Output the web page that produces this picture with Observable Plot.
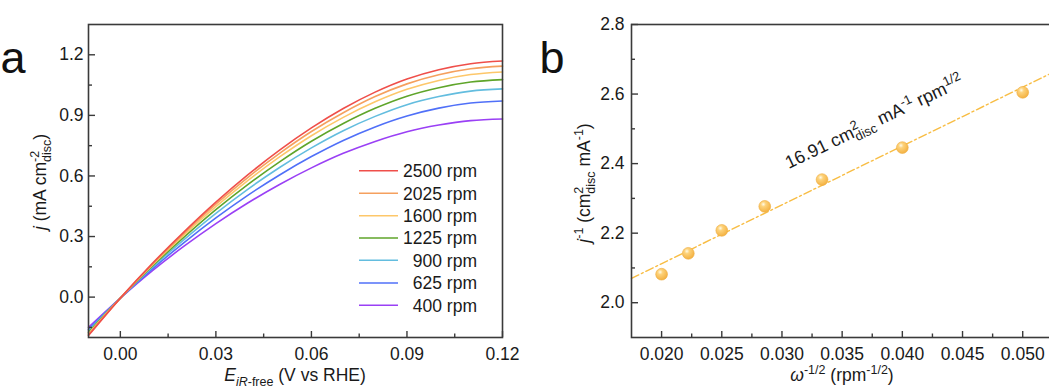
<!DOCTYPE html>
<html><head><meta charset="utf-8">
<script src="https://cdn.jsdelivr.net/npm/d3@7"></script>
<script src="https://cdn.jsdelivr.net/npm/@observablehq/plot@0.6"></script>
<style>
html,body{margin:0;padding:0;background:#fff;overflow:hidden;}
#wrap{position:relative;width:1049px;height:390px;overflow:hidden;background:#fff;}
#pa,#pb{position:absolute;top:0;width:540px;height:390px;}
#pa{left:0;} #pb{left:540px;}
#pa svg,#pb svg{max-width:none !important;width:540px !important;height:390px !important;overflow:visible;}
</style></head><body>
<svg width="0" height="0" style="position:absolute"><defs>
<radialGradient id="ball" cx="0.38" cy="0.32" r="0.7">
<stop offset="0" stop-color="#fffbe8"/>
<stop offset="0.3" stop-color="#fdd27a"/>
<stop offset="1" stop-color="#f3b040"/>
</radialGradient></defs></svg>
<div id="wrap"><div id="pa"></div><div id="pb"></div></div>
<script>
// ---------- Panel a data ----------
const E = [-0.01, 0, 0.01, 0.02, 0.03, 0.04, 0.05, 0.06, 0.07, 0.08, 0.09, 0.10, 0.11, 0.12];
const rpmLabels = ["2500 rpm", "2025 rpm", "1600 rpm", "1225 rpm", "900 rpm", "625 rpm", "400 rpm"];
const rpmColors = ["#ef4f4a", "#f5a05e", "#fdc76a", "#5fa52a", "#63bddf", "#5070f8", "#9a40f5"];
const j2500 = [-0.190, -0.005, 0.166, 0.323, 0.470, 0.605, 0.728, 0.838, 0.934, 1.015, 1.080, 1.126, 1.156, 1.169];
const j2025 = [-0.186, -0.005, 0.162, 0.316, 0.460, 0.592, 0.712, 0.820, 0.913, 0.993, 1.056, 1.101, 1.131, 1.144];
const j1600 = [-0.181, -0.005, 0.158, 0.308, 0.448, 0.577, 0.694, 0.799, 0.890, 0.967, 1.029, 1.073, 1.102, 1.115];
const j1225 = [-0.175, -0.005, 0.153, 0.297, 0.433, 0.557, 0.670, 0.772, 0.860, 0.935, 0.995, 1.037, 1.065, 1.077];
const j900  = [-0.168, -0.005, 0.147, 0.285, 0.415, 0.534, 0.642, 0.739, 0.824, 0.895, 0.953, 0.993, 1.020, 1.031];
const j625  = [-0.160, -0.005, 0.139, 0.270, 0.392, 0.504, 0.605, 0.696, 0.776, 0.843, 0.897, 0.936, 0.961, 0.971];
const j400  = [-0.150, -0.005, 0.130, 0.252, 0.364, 0.466, 0.558, 0.640, 0.712, 0.771, 0.819, 0.852, 0.874, 0.882];
const jSeries = [j2500, j2025, j1600, j1225, j900, j625, j400];

const xMajorA = [0, 0.03, 0.06, 0.09, 0.12];
const xMinorA = [0.015, 0.045, 0.075, 0.105];
const yMajorA = [0, 0.3, 0.6, 0.9, 1.2];
const yMinorA = [-0.15, 0.15, 0.45, 0.75, 1.05];

// ---------- Panel b data ----------
const omega = [0.02, 0.02222, 0.025, 0.02857, 0.03333, 0.04, 0.05];
const invJ = [2.082, 2.142, 2.208, 2.277, 2.354, 2.446, 2.605];
const fitX = [0.0175, 0.0548];
const fitY = [2.070, 2.701];
const slopeLabel = "16.91";
const xMajorB = [0.020, 0.025, 0.030, 0.035, 0.040, 0.045, 0.050];
const xMinorB = [0.0225, 0.0275, 0.0325, 0.0375, 0.0425, 0.0475, 0.0525];
const yMajorB = [2.0, 2.2, 2.4, 2.6, 2.8];
const yMinorB = [2.1, 2.3, 2.5, 2.7];

const fontFam = "'Liberation Sans', Arial, Helvetica, sans-serif";
const axisColor = "#3a3a3a";
const textColor = "#1a1a1a";

function richText(svg, x, y, parts, {rotate = 0, anchor = "middle", size = 17.5, subSize = 12.5} = {}) {
  const t = d3.select(svg).append("text")
    .attr("transform", `translate(${x},${y}) rotate(${rotate})`)
    .attr("text-anchor", anchor)
    .attr("font-family", fontFam)
    .attr("font-size", size)
    .attr("fill", textColor);
  let shift = 0, lastSup = 0;
  for (const p of parts) {
    const ts = t.append("tspan").text(p.t);
    const target = p.sup ? -7 : p.sub ? 4.5 : 0;
    if (p.sup || p.sub) ts.attr("font-size", subSize);
    if (p.italic) ts.attr("font-style", "italic");
    ts.attr("dy", target - shift);
    shift = target;
    if (p.stack) ts.attr("dx", -lastSup);
    if (p.sup) lastSup = ts.node().getComputedTextLength();
  }
  return t;
}

// ---------- Panel a ----------
const rowsA = [];
jSeries.forEach((s, k) => s.forEach((v, i) => rowsA.push({E: E[i], j: v, rpm: rpmLabels[k]})));

const plotW_A = 540 - 88 - 38, plotH = 390 - 24 - 53;
const pa = Plot.plot({
  width: 540, height: 390,
  marginLeft: 88, marginRight: 38, marginTop: 24, marginBottom: 53,
  x: {domain: [-0.01, 0.12], label: null},
  y: {domain: [-0.2, 1.35], label: null},
  style: {fontFamily: fontFam, fontSize: "17px", color: textColor, background: "transparent"},
  marks: [
    ...rpmLabels.slice().reverse().map((lab) => Plot.line(rowsA.filter(d => d.rpm === lab), {
      x: "E", y: "j", stroke: rpmColors[rpmLabels.indexOf(lab)], strokeWidth: 1.6, curve: "catmull-rom"
    })),
    Plot.axisX({ticks: xMajorA, tickSize: 0, tickPadding: 10, fontSize: 17.5, tickFormat: d3.format(".2f"), label: null}),
    Plot.axisY({ticks: yMajorA, tickSize: 0, tickPadding: 5, fontSize: 17.5, tickFormat: d3.format(".1f"), label: null}),
    Plot.tickX(xMajorA, {x: d => d, insetTop: plotH - 6, stroke: axisColor, strokeWidth: 1.4}),
    Plot.tickX(xMinorA, {x: d => d, insetTop: plotH - 3.5, stroke: axisColor, strokeWidth: 1.4}),
    Plot.tickY(yMajorA, {y: d => d, insetRight: plotW_A - 7, stroke: axisColor, strokeWidth: 1.4}),
    Plot.tickY(yMinorA, {y: d => d, insetRight: plotW_A - 4, stroke: axisColor, strokeWidth: 1.4}),
    Plot.frame({stroke: axisColor, strokeWidth: 1.6})
  ]
});
document.getElementById("pa").appendChild(pa);

// legend
const legY = [170.7, 193.3, 215.7, 238, 260.3, 283, 305.3];
const lg = d3.select(pa).append("g");
rpmLabels.forEach((lab, k) => {
  lg.append("line").attr("x1", 359).attr("x2", 398).attr("y1", legY[k]).attr("y2", legY[k])
    .attr("stroke", rpmColors[k]).attr("stroke-width", 1.6);
  lg.append("text").attr("x", 477).attr("y", legY[k] + 6.2).attr("text-anchor", "end")
    .attr("font-family", fontFam).attr("font-size", 17.5).attr("fill", textColor).text(lab);
});
d3.select(pa).append("text").attr("x", 13).attr("y", 73).attr("font-family", fontFam)
  .attr("font-size", 45).attr("fill", "#111").text("a");
richText(pa, 295, 381, [
  {t: "E", italic: true}, {t: "iR", sub: true, italic: true}, {t: "-free", sub: true}, {t: " (V vs RHE)"}
]);
richText(pa, 46, 182, [
  {t: "j", italic: true}, {t: " (mA cm"}, {t: "-2", sup: true}, {t: "disc", sub: true, stack: true}, {t: ")"}
], {rotate: -90});

// ---------- Panel b ----------
const rowsB = omega.map((w, i) => ({w, v: invJ[i]}));
const fitRows = fitX.map((w, i) => ({w, v: fitY[i]}));
const plotW_B = 540 - 91;
const pb = Plot.plot({
  width: 540, height: 390,
  marginLeft: 91, marginRight: 0, marginTop: 24, marginBottom: 53,
  x: {domain: [0.0175, 0.0548], label: null},
  y: {domain: [1.9, 2.8], label: null},
  style: {fontFamily: fontFam, fontSize: "17px", color: textColor, background: "transparent"},
  marks: [
    Plot.line(fitRows, {x: "w", y: "v", stroke: "#f8bd44", strokeWidth: 1.4, strokeDasharray: "8,3,2,3"}),
    Plot.dot(rowsB, {x: "w", y: "v", r: 5.9, fill: "url(#ball)", stroke: "#eeac40", strokeWidth: 0.6}),
    Plot.axisX({ticks: xMajorB, tickSize: 0, tickPadding: 10, fontSize: 17.5, tickFormat: d3.format(".3f"), label: null}),
    Plot.axisY({ticks: yMajorB, tickSize: 0, tickPadding: 7, fontSize: 17.5, tickFormat: d3.format(".1f"), label: null}),
    Plot.tickX(xMajorB, {x: d => d, insetTop: plotH - 6, stroke: axisColor, strokeWidth: 1.4}),
    Plot.tickX(xMinorB, {x: d => d, insetTop: plotH - 3.5, stroke: axisColor, strokeWidth: 1.4}),
    Plot.tickY(yMajorB, {y: d => d, insetRight: plotW_B - 7, stroke: axisColor, strokeWidth: 1.4}),
    Plot.tickY(yMinorB, {y: d => d, insetRight: plotW_B - 4, stroke: axisColor, strokeWidth: 1.4}),
    Plot.frame({stroke: axisColor, strokeWidth: 1.6})
  ]
});
document.getElementById("pb").appendChild(pb);

d3.select(pb).append("text").attr("x", 12).attr("y", 73).attr("font-family", fontFam)
  .attr("font-size", 45).attr("fill", "#111").text("b");
richText(pb, 302, 381, [
  {t: "ω", italic: true}, {t: "-1/2", sup: true}, {t: " (rpm"}, {t: "-1/2", sup: true}, {t: ")"}
]);
richText(pb, 50, 183, [
  {t: "j", italic: true}, {t: "-1", sup: true}, {t: " (cm"}, {t: "2", sup: true},
  {t: "disc", sub: true, stack: true}, {t: " mA"}, {t: "-1", sup: true}, {t: ")"}
], {rotate: -90});
const sx = pb.scale("x"), sy = pb.scale("y");
richText(pb, sx.apply(0.0306), sy.apply(2.383), [
  {t: slopeLabel + " cm"}, {t: "2", sup: true}, {t: "disc", sub: true, stack: true},
  {t: " mA"}, {t: "-1", sup: true}, {t: " rpm"}, {t: "1/2", sup: true}
], {rotate: -25.5, anchor: "start", size: 18, subSize: 13});
</script>
</body></html>
